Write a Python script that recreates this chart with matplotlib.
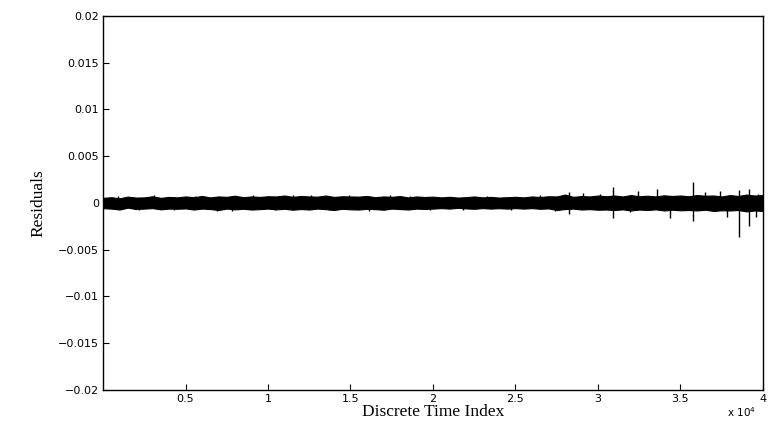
import numpy as np
import matplotlib
matplotlib.use("Agg")
import matplotlib.pyplot as plt

# Envelope of the residual band (values in 1e-3), sampled every 500 steps from 0 to 40000
env_index = list(range(0, 40001, 500))
upper = [0.55, 0.62, 0.5, 0.68, 0.58, 0.6, 0.72, 0.55, 0.65, 0.6, 0.7,
         0.62, 0.75, 0.6, 0.7, 0.66, 0.78, 0.62, 0.7, 0.65, 0.72,
         0.7, 0.8, 0.66, 0.75, 0.7, 0.68, 0.8, 0.65, 0.72, 0.7,
         0.68, 0.75, 0.62, 0.7, 0.66, 0.74, 0.6, 0.7, 0.64, 0.68,
         0.6, 0.66, 0.58, 0.62, 0.7, 0.6, 0.65, 0.58, 0.62, 0.66,
         0.6, 0.7, 0.64, 0.72, 0.7, 0.9, 0.66, 0.74, 0.7, 0.8,
         0.72, 0.8, 0.7, 0.85, 0.72, 0.78, 0.7, 0.82, 0.75, 0.8,
         0.72, 0.85, 0.78, 0.8, 0.7, 0.85, 0.75, 0.9, 0.8, 0.85]
lower = [-0.55, -0.6, -0.7, -0.5, -0.65, -0.6, -0.55, -0.68, -0.6, -0.62, -0.58,
         -0.7, -0.6, -0.65, -0.75, -0.6, -0.68, -0.62, -0.7, -0.66, -0.6,
         -0.68, -0.62, -0.72, -0.65, -0.7, -0.6, -0.66, -0.75, -0.62, -0.68,
         -0.7, -0.62, -0.66, -0.72, -0.6, -0.65, -0.7, -0.6, -0.64, -0.6,
         -0.55, -0.6, -0.52, -0.58, -0.62, -0.55, -0.6, -0.56, -0.6, -0.55,
         -0.6, -0.55, -0.62, -0.58, -0.75, -0.65, -0.6, -0.7, -0.66, -0.72,
         -0.7, -0.75, -0.68, -0.8, -0.7, -0.75, -0.68, -0.8, -0.72, -0.78,
         -0.75, -0.8, -0.72, -0.85, -0.78, -0.8, -0.75, -0.9, -0.8, -0.85]

# Isolated spikes (index, value in 1e-3)
spike_index = [900, 2200, 3100, 4300, 5600, 6900, 7800, 9100, 10400, 11500,
               12600, 13700, 14900, 16100, 17400, 18600, 19800, 21800, 23300,
               24700, 26500, 27400,
               28240, 28240, 29090, 30120, 30900, 30900, 31930, 32420,
               33580, 34360, 35760, 35760, 36480, 37400, 37820,
               38550, 38550, 39150, 39150, 39580, 39700]
spike_value = [0.8, -0.8, 0.85, -0.8, 0.8, -0.85, -0.85, 0.85, -0.8, 0.85,
               0.9, -0.8, 0.85, -0.85, 0.85, 0.8, -0.8, -0.8, 0.75,
               -0.75, 0.85, -0.9,
               1.2, -1.2, 1.1, 1.0, 1.75, -1.6, -1.0, 1.3,
               1.5, -1.6, 2.2, -1.9, 1.2, 1.3, -1.5,
               1.4, -3.6, 1.5, -2.5, -1.5, 1.0]

xticks = [5000, 10000, 15000, 20000, 25000, 30000, 35000, 40000]
xtick_labels = ['0.5', '1', '1.5', '2', '2.5', '3', '3.5', '4']
yticks = [-0.02, -0.015, -0.01, -0.005, 0, 0.005, 0.01, 0.015, 0.02]
ytick_labels = ['\u22120.02', '\u22120.015', '\u22120.01', '\u22120.005', '0',
                '0.005', '0.01', '0.015', '0.02']

fig = plt.figure(figsize=(7.71, 4.24), dpi=100)
ax = fig.add_axes([0.1336, 0.0802, 0.856, 0.8821])

x = np.array(env_index)
ax.fill_between(x, np.array(lower) * 1e-3, np.array(upper) * 1e-3,
                color='black', lw=0.8, edgecolor='black')
ax.vlines(spike_index, 0, np.array(spike_value) * 1e-3, color='black', lw=1.0)

ax.set_xlim(0, 40000)
ax.set_ylim(-0.02, 0.02)
ax.set_xticks(xticks)
ax.set_xticklabels(xtick_labels)
ax.set_yticks(yticks)
ax.set_yticklabels(ytick_labels)
ax.tick_params(direction='in', length=4, width=0.8, labelsize=8,
               top=False, right=False, pad=3)
for lab in ax.get_xticklabels() + ax.get_yticklabels():
    lab.set_fontfamily('DejaVu Sans')
for s in ax.spines.values():
    s.set_linewidth(1.0)

ax.set_xlabel('Discrete Time Index', fontfamily='Liberation Serif', fontsize=12.5, labelpad=0)
ax.set_ylabel('Residuals', fontfamily='Liberation Serif', fontsize=12.5, labelpad=8)
fig.text(0.962, 0.027, 'x 10$^{4}$', fontfamily='DejaVu Sans', fontsize=7.5,
         ha='center', va='center')

fig.savefig('out.png', dpi=100)
